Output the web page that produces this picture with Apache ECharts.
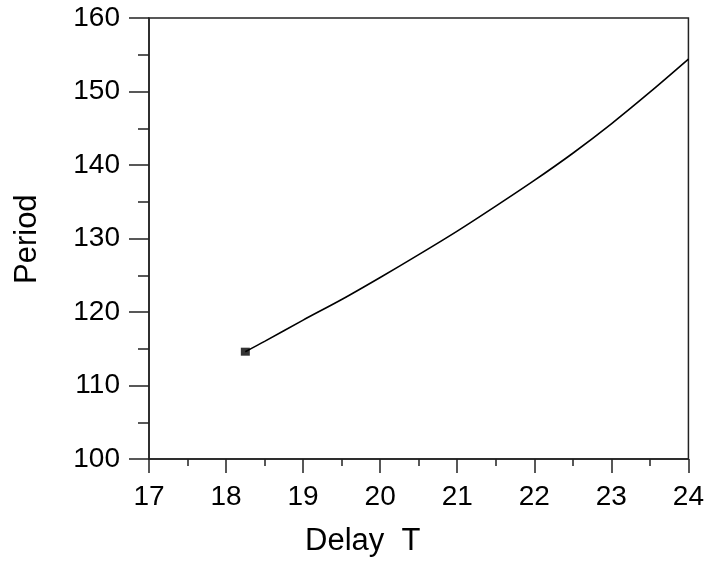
<!DOCTYPE html>
<html>
<head>
<meta charset="utf-8">
<script src="https://cdn.jsdelivr.net/npm/echarts@6/dist/echarts.min.js"></script>
<style>html,body{margin:0;padding:0;background:#fff;}#c{width:707px;height:563px;}</style>
</head>
<body>
<div id="c"></div>
<script>
const delayT = [18.25, 18.5, 19, 19.5, 20, 20.5, 21, 21.5, 22, 22.5, 23, 23.5, 24];
const period = [114.6, 116.0, 118.9, 121.7, 124.7, 127.8, 131.0, 134.4, 137.9, 141.6, 145.6, 149.9, 154.4];
const xTicks = [17, 18, 19, 20, 21, 22, 23, 24];
const yTicks = [100, 110, 120, 130, 140, 150, 160];
const xTitle = 'Delay  T';
const yTitle = 'Period';

const chart = echarts.init(document.getElementById('c'), null, {renderer: 'canvas'});
const font = 'Liberation Sans, Arial, sans-serif';
chart.setOption({
  animation: false,
  grid: {left: 149, right: 17, top: 18, bottom: 104, show: true, borderColor: '#222', borderWidth: 1.5, backgroundColor: 'transparent'},
  xAxis: {
    type: 'value', min: xTicks[0], max: xTicks[xTicks.length - 1], interval: 1,
    axisLine: {show: true, onZero: false, lineStyle: {color: '#222', width: 1.5}},
    splitLine: {show: false},
    axisTick: {show: true, inside: false, length: 14, lineStyle: {color: '#222', width: 1.5}},
    minorTick: {show: true, splitNumber: 2, length: 7, lineStyle: {color: '#222', width: 1.5}},
    axisLabel: {color: '#000', fontFamily: font, fontSize: 28, margin: 24}
  },
  yAxis: {
    type: 'value', min: yTicks[0], max: yTicks[yTicks.length - 1], interval: 10,
    axisLine: {show: true, onZero: false, lineStyle: {color: '#222', width: 1.5}},
    splitLine: {show: false},
    axisTick: {show: true, inside: false, length: 20, lineStyle: {color: '#222', width: 1.5}},
    minorTick: {show: true, splitNumber: 2, length: 11, lineStyle: {color: '#222', width: 1.5}},
    axisLabel: {color: '#000', fontFamily: font, fontSize: 28, margin: 29}
  },
  graphic: [
    {type: 'text', left: 305, top: 526, style: {text: xTitle, fontFamily: font, fontSize: 31, fill: '#000'}},
    {type: 'text', x: 12, y: 284, rotation: Math.PI / 2, style: {text: yTitle, fontFamily: font, fontSize: 31, fill: '#000', textVerticalAlign: 'top'}}
  ],
  series: [
    {type: 'line', data: delayT.map((x, i) => [x, period[i]]), smooth: 0.3, symbol: 'none',
     lineStyle: {color: '#000', width: 1.6}},
    {type: 'scatter', data: [[delayT[0], period[0]]], symbol: 'rect', symbolSize: [9, 8],
     itemStyle: {color: '#000'}}
  ]
});
</script>
</body>
</html>
